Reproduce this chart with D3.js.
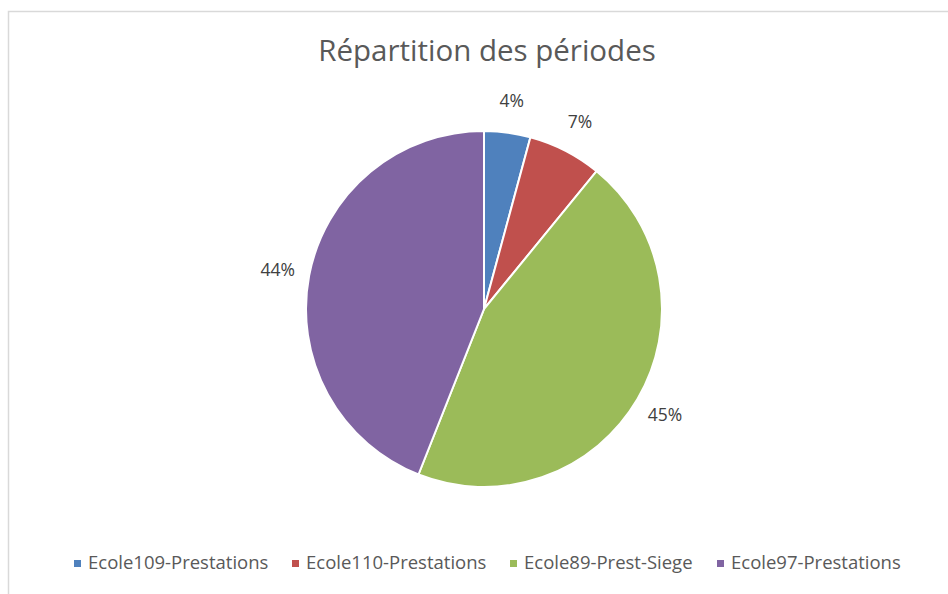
<!DOCTYPE html>
<html>
<head>
<meta charset="utf-8">
<script src="https://cdn.jsdelivr.net/npm/d3@7"></script>
<style>
  body { margin: 0; background: #fff; }
  svg text { font-family: "Open Sans", "Noto Sans", sans-serif; }
</style>
</head>
<body>
<svg id="chart" width="948" height="594"></svg>
<script>
// data (shares in %)
var categories = ["Ecole109-Prestations", "Ecole110-Prestations", "Ecole89-Prest-Siege", "Ecole97-Prestations"];
var values = [4.2, 6.7, 45.1, 44.0];
var colors = ["#4f81bd", "#c0504d", "#9bbb59", "#8064a2"];
var title = "Répartition des périodes";

var svg = d3.select("#chart"),
    width = +svg.attr("width"),
    height = +svg.attr("height");

var cx = 484, cy = 309, radius = 178;

// chart frame
svg.append("rect")
    .attr("x", 8.5).attr("y", 11.5)
    .attr("width", width).attr("height", height)
    .attr("fill", "none")
    .attr("stroke", "#d9d9d9")
    .attr("stroke-width", 1.5);

svg.append("text")
    .attr("x", 487).attr("y", 61)
    .attr("text-anchor", "middle")
    .attr("font-size", 29.5)
    .attr("fill", "#595959")
    .text(title);

var data = categories.map(function(c, i) { return {name: c, value: values[i], color: colors[i]}; });

var pie = d3.pie().sort(null).value(function(d) { return d.value; });
var arc = d3.arc().innerRadius(0).outerRadius(radius);
var labelArc = d3.arc().innerRadius(210).outerRadius(210);
var total = d3.sum(values);

var g = svg.append("g").attr("transform", "translate(" + cx + "," + cy + ")");

var slices = g.selectAll("path")
    .data(pie(data))
    .enter().append("path")
    .attr("d", arc)
    .attr("fill", function(d) { return d.data.color; })
    .attr("stroke", "#fff")
    .attr("stroke-width", 2);

g.selectAll("text.lbl")
    .data(pie(data))
    .enter().append("text")
    .attr("class", "lbl")
    .attr("transform", function(d) { return "translate(" + labelArc.centroid(d) + ")"; })
    .attr("text-anchor", "middle")
    .attr("dy", "0.35em")
    .attr("font-size", 17.5)
    .attr("fill", "#404040")
    .text(function(d) { return Math.round(d.data.value / total * 100) + "%"; });

// legend
var legendX = [74, 292, 510, 717];
var legend = svg.append("g").selectAll("g")
    .data(data)
    .enter().append("g")
    .attr("transform", function(d, i) { return "translate(" + legendX[i] + ",563)"; });

legend.append("rect")
    .attr("x", 0).attr("y", -3)
    .attr("width", 7).attr("height", 7)
    .attr("fill", function(d) { return d.color; });

legend.append("text")
    .attr("x", 14).attr("dy", "0.35em")
    .attr("font-size", 18.5)
    .attr("fill", "#595959")
    .text(function(d) { return d.name; });
</script>
</body>
</html>
